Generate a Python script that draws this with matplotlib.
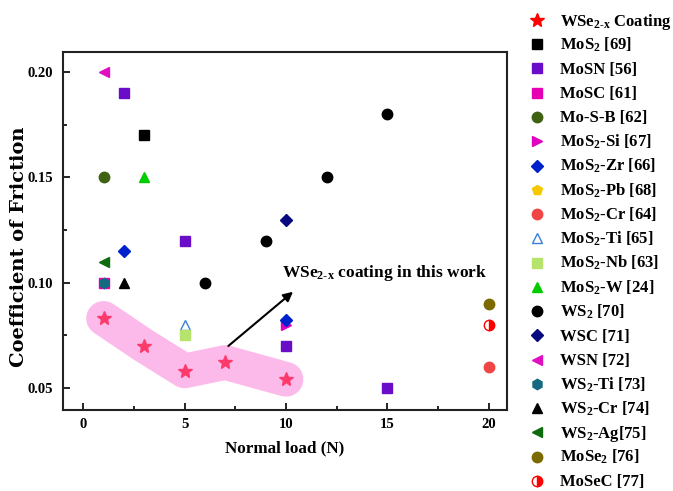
import matplotlib
matplotlib.use("Agg")
import matplotlib.pyplot as plt
from matplotlib.lines import Line2D

plt.rcParams['font.family'] = ['Liberation Serif', 'DejaVu Serif']
plt.rcParams['mathtext.fontset'] = 'custom'
plt.rcParams['mathtext.rm'] = 'Liberation Serif:bold'
plt.rcParams['mathtext.it'] = 'Liberation Serif:bold'
plt.rcParams['mathtext.bf'] = 'Liberation Serif:bold'

# Friction data: normal load (N) and coefficient of friction per coating
wse_load = [1, 3, 5, 7, 10]
wse_cof = [0.083, 0.070, 0.058, 0.062, 0.054]

mos2_load, mos2_cof = [3], [0.17]
mosn_load, mosn_cof = [2, 5, 10, 15], [0.19, 0.12, 0.07, 0.05]
mosc_load, mosc_cof = [1], [0.10]
mosb_load, mosb_cof = [1], [0.15]
mos2si_load, mos2si_cof = [10], [0.08]
mos2zr_load, mos2zr_cof = [2, 10], [0.115, 0.082]
mos2pb_load, mos2pb_cof = [5], [0.075]
mos2cr_load, mos2cr_cof = [20], [0.06]
mos2ti_load, mos2ti_cof = [5], [0.08]
mos2nb_load, mos2nb_cof = [5], [0.075]
mos2w_load, mos2w_cof = [3], [0.15]
ws2_load, ws2_cof = [6, 9, 12, 15], [0.10, 0.12, 0.15, 0.18]
wsc_load, wsc_cof = [10], [0.13]
wsn_load, wsn_cof = [1], [0.20]
ws2ti_load, ws2ti_cof = [1], [0.10]
ws2cr_load, ws2cr_cof = [2], [0.10]
ws2ag_load, ws2ag_cof = [1], [0.11]
mose2_load, mose2_cof = [20], [0.09]
mosec_load, mosec_cof = [20], [0.08]

W, H = 673, 491
fig = plt.figure(figsize=(W / 100, H / 100), dpi=100)
ax = fig.add_axes([63 / W, 1 - 410 / H, 444 / W, 358 / H])

ms = 7.5
star_style = dict(marker='*', markersize=ms + 2.5, color='#FF0000')
series = [
    (mos2_load, mos2_cof, dict(marker='s', color='black'), r'MoS$_2$ [69]'),
    (mosn_load, mosn_cof, dict(marker='s', color='#6A0DC8'), 'MoSN [56]'),
    (mosc_load, mosc_cof, dict(marker='s', color='#E600B4'), 'MoSC [61]'),
    (mosb_load, mosb_cof, dict(marker='o', color='#3F6212'), 'Mo-S-B [62]'),
    (mos2si_load, mos2si_cof, dict(marker='>', color='#E000C0'), r'MoS$_2$-Si [67]'),
    (mos2zr_load, mos2zr_cof, dict(marker='D', color='#0022CC', markersize=ms - 1), r'MoS$_2$-Zr [66]'),
    (mos2pb_load, mos2pb_cof, dict(marker='p', color='#F5C800'), r'MoS$_2$-Pb [68]'),
    (mos2cr_load, mos2cr_cof, dict(marker='o', color='#F04545'), r'MoS$_2$-Cr [64]'),
    (mos2ti_load, mos2ti_cof, dict(marker='^', color='#3A7FD8', markerfacecolor='white',
                                   markeredgewidth=1.0), r'MoS$_2$-Ti [65]'),
    (mos2nb_load, mos2nb_cof, dict(marker='s', color='#B5E36B'), r'MoS$_2$-Nb [63]'),
    (mos2w_load, mos2w_cof, dict(marker='^', color='#00CC00'), r'MoS$_2$-W [24]'),
    (ws2_load, ws2_cof, dict(marker='o', color='black'), r'WS$_2$ [70]'),
    (wsc_load, wsc_cof, dict(marker='D', color='#0A0A80', markersize=ms - 1), 'WSC [71]'),
    (wsn_load, wsn_cof, dict(marker='<', color='#E010C0'), 'WSN [72]'),
    (ws2ti_load, ws2ti_cof, dict(marker='h', color='#156A80'), r'WS$_2$-Ti [73]'),
    (ws2cr_load, ws2cr_cof, dict(marker='^', color='black'), r'WS$_2$-Cr [74]'),
    (ws2ag_load, ws2ag_cof, dict(marker='<', color='#0D6B0D'), r'WS$_2$-Ag[75]'),
    (mose2_load, mose2_cof, dict(marker='o', color='#7A6A00'), r'MoSe$_2$ [76]'),
    (mosec_load, mosec_cof, dict(marker='o', color='#FF0000', fillstyle='right',
                                 markerfacecoloralt='white', markeredgewidth=1.0), 'MoSeC [77]'),
]

legend_entries = [(star_style, r'WSe$_{2\text{-}x}$ Coating')]
ax.plot(wse_load, wse_cof, linestyle='none', zorder=3, **star_style)

for x, y, style, lab in series:
    kw = dict(markersize=ms)
    kw.update(style)
    z = 2 if lab.startswith(r'MoS$_2$-Pb') else 3
    ax.plot(x, y, linestyle='none', zorder=z, **kw)
    legend_entries.append((kw, lab))

# translucent highlight band over this work's results
ax.plot(wse_load, wse_cof, color='#FB76D8', alpha=0.5, linewidth=25,
        solid_capstyle='round', solid_joinstyle='round', zorder=4)

ax.annotate('', xy=(10.45, 0.0965), xytext=(7.05, 0.069),
            arrowprops=dict(arrowstyle='-|>', color='black', lw=1.5, mutation_scale=14),
            zorder=5)
ax.text(9.8, 0.1045, r'WSe$_{2\text{-}x}$ coating in this work', fontsize=12.5,
        fontweight='bold', va='center', ha='left', zorder=5)

ax.set_xlim(-1, 20.9)
ax.set_ylim(0.0394, 0.2097)
ax.set_xticks([0, 5, 10, 15, 20])
ax.set_xticks([2.5, 7.5, 12.5, 17.5], minor=True)
ax.set_yticks([0.05, 0.10, 0.15, 0.20])
ax.set_yticks([0.075, 0.125, 0.175], minor=True)
ax.set_yticklabels(['0.05', '0.10', '0.15', '0.20'])
ax.tick_params(which='both', direction='in', labelsize=10.5, width=1.2)
ax.tick_params(which='major', length=5)
ax.tick_params(which='minor', length=3)
ax.tick_params(axis='x', pad=6)
ax.tick_params(axis='y', pad=7)
for lbl in ax.get_xticklabels() + ax.get_yticklabels():
    lbl.set_fontweight('bold')
for sp in ax.spines.values():
    sp.set_linewidth(1.5)
    sp.set_color('#222222')

ax.set_xlabel('Normal load (N)', fontsize=12.3, fontweight='bold')
ax.xaxis.set_label_coords(0.5, -(448 - 410) / 358, transform=ax.transAxes)
ax.xaxis.label.set_va('center')
ax.set_ylabel('Coefficient of Friction', fontsize=14, fontweight='bold',
              family='DejaVu Serif')
ax.yaxis.set_label_coords(-(63 - 19) / 444, (410 - 247) / 358)
ax.yaxis.label.set_va('center')

# legend drawn as a column to the right of the axes
row0, step = 20.0, 24.25
for i, (style, lab) in enumerate(legend_entries):
    yc = row0 + i * step
    fig.add_artist(Line2D([537 / W], [1 - yc / H], transform=fig.transFigure,
                          linestyle='none', **style))
    fig.text(560 / W, 1 - (yc + 5.5) / H, lab, fontsize=12, fontweight='bold',
             ha='left', va='baseline')

fig.savefig('out.png', dpi=100)
